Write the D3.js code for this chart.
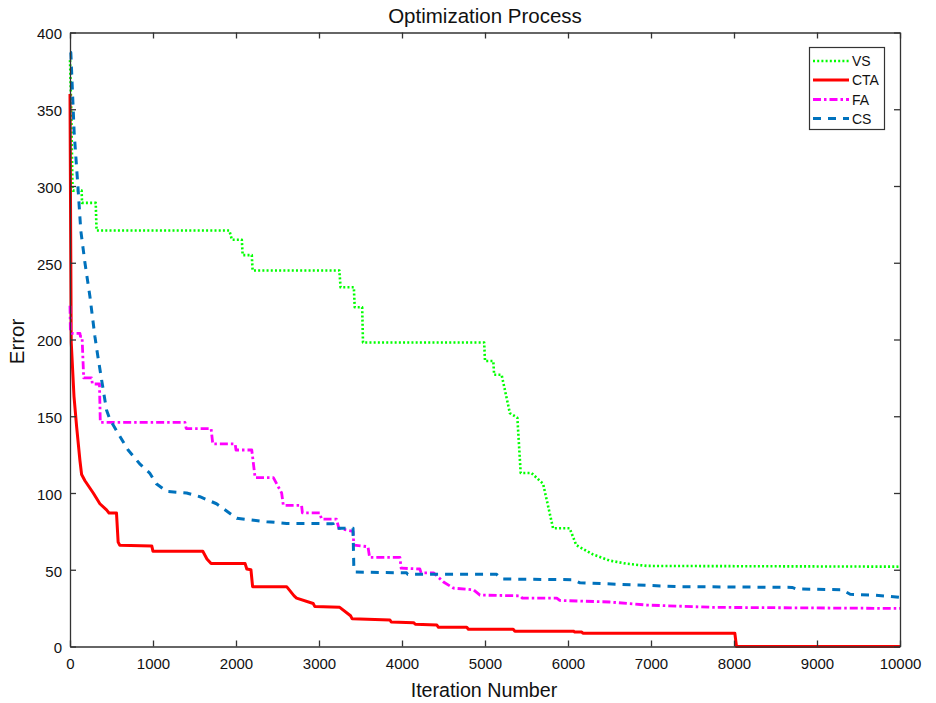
<!DOCTYPE html>
<html>
<head>
<meta charset="utf-8">
<script src="https://cdn.jsdelivr.net/npm/d3@7"></script>
<style>
  html, body { margin: 0; padding: 0; background: #fff; }
  svg { display: block; font-family: "Liberation Sans", Arial, Helvetica, sans-serif; }
</style>
</head>
<body>
<svg id="chart" width="936" height="703"></svg>
<script>
// ---- data ----
const xTicks = [0, 1000, 2000, 3000, 4000, 5000, 6000, 7000, 8000, 9000, 10000];
const yTicks = [0, 50, 100, 150, 200, 250, 300, 350, 400];
const seriesNames = ["VS", "CTA", "FA", "CS"];

const vsData = [[0,382],[15,350],[30,300],[35,297],[140,297],[145,289],[310,289],[320,271],[1920,271],[1950,265],[2070,265],[2080,255],[2190,255],[2200,245],[3245,245],[3260,234],[3420,234],[3430,221],[3520,221],[3530,198],[4990,198],[5000,186],[5100,186],[5110,177],[5200,177],[5300,152],[5390,149],[5430,113],[5560,113],[5700,106],[5820,77],[6020,77],[6100,66],[6300,60],[6500,56],[6700,54],[6950,52.5],[10000,52]];
const ctaData = [[0,360],[8,270],[15,198],[48,163],[80,143],[120,121],[140,112],[180,108],[280,100],[360,93],[440,89],[470,87],[560,87],[580,68],[600,66],[985,65.5],[1000,62],[1600,62],[1650,57],[1700,54],[2110,54],[2130,50.5],[2180,50],[2200,39],[2610,39],[2700,33],[2730,31.5],[2930,28],[2950,26],[3250,25.5],[3380,20],[3400,18],[3855,17.3],[3870,16],[4140,15.5],[4160,14.5],[4420,14],[4440,12.5],[4780,12.5],[4800,11.2],[5340,11.2],[5360,10],[6065,10],[6080,9.5],[6165,9.5],[6180,8.6],[8010,8.6],[8030,0],[10000,0]];
const faData = [[0,222],[5,205],[20,204],[120,204],[125,202],[145,202],[165,175],[260,175],[270,171],[355,171],[365,146],[1385,146],[1400,142],[1700,142],[1720,132],[1990,132],[2000,128],[2190,128],[2230,110],[2450,110],[2550,100],[2570,92],[2790,92],[2800,87],[3010,87],[3030,83],[3210,83],[3240,77],[3410,75],[3420,66],[3590,65],[3610,58],[3975,58],[3990,51],[4215,50.5],[4230,48],[4380,48],[4500,42],[4620,38],[4860,37],[4940,33.5],[5420,33],[5450,31.5],[5865,31.5],[5900,30],[6500,29],[6950,27],[7750,25.5],[10000,24.8]];
const csData = [[0,387],[10,387],[50,335],[95,300],[130,271],[180,250],[240,228],[300,202],[330,191],[380,174],[440,154],[480,148],[600,137],[700,128],[840,119],[960,113],[1040,106],[1165,101],[1405,100],[1565,97.6],[1765,93],[2010,83.5],[2370,81.3],[2610,80.2],[3170,80],[3180,77],[3410,77],[3420,50],[3440,48.5],[4055,48],[4070,47],[5140,47],[5200,44],[6065,43.5],[6145,41.5],[7350,39],[8700,38.5],[8750,37.5],[9300,37],[9400,34],[9700,33.5],[10000,32]];

const seriesData = [vsData, ctaData, faData, csData];
const seriesColors = ["#00ff00", "#ff0000", "#ff00ff", "#0072bd"];
const seriesDash = ["2,2.2", null, "8,3,2.5,3", "8,7"];
const seriesWidth = [2.6, 3, 2.8, 3];

// ---- layout ----
const svg = d3.select("#chart");
const L = 70, R = 900, T = 32.5, B = 646.5;
const x = d3.scaleLinear().domain([0, 10000]).range([L, R]);
const y = d3.scaleLinear().domain([0, 400]).range([B, T]);
const axisColor = "#333";

// data lines (drawn first, axes on top)
const line = d3.line().x(d => x(d[0])).y(d => y(d[1]));
const plot = svg.append("g");
seriesData.forEach((data, i) => {
  plot.append("path")
    .datum(data)
    .attr("d", line)
    .attr("fill", "none")
    .attr("stroke", seriesColors[i])
    .attr("stroke-width", seriesWidth[i])
    .attr("stroke-dasharray", seriesDash[i])
    .attr("stroke-linejoin", "round");
});

function styleAxis(g, showLabels) {
  g.selectAll(".domain").attr("stroke", axisColor).attr("stroke-width", 1.3);
  g.selectAll(".tick line").attr("stroke", axisColor).attr("stroke-width", 1.3);
  g.selectAll(".tick text").attr("fill", "#111").attr("font-size", 15)
    .attr("font-family", "Liberation Sans, Arial, sans-serif")
    .style("display", showLabels ? null : "none");
}

svg.append("g").attr("transform", `translate(0,${B})`)
  .call(d3.axisBottom(x).tickValues(xTicks).tickFormat(d3.format("d")).tickSizeInner(-6).tickSizeOuter(0).tickPadding(12))
  .call(g => styleAxis(g, true));

svg.append("g").attr("transform", `translate(${L},0)`)
  .call(d3.axisLeft(y).tickValues(yTicks).tickSizeInner(-6).tickSizeOuter(0).tickPadding(8))
  .call(g => styleAxis(g, true))
  .call(g => g.selectAll(".tick text").attr("dy", "0.42em"));

svg.append("g").attr("transform", `translate(0,${T})`)
  .call(d3.axisTop(x).tickValues(xTicks).tickSizeInner(-6).tickSizeOuter(0))
  .call(g => styleAxis(g, false));

svg.append("g").attr("transform", `translate(${R},0)`)
  .call(d3.axisRight(y).tickValues(yTicks).tickSizeInner(-6).tickSizeOuter(0))
  .call(g => styleAxis(g, false));

// titles
svg.append("text").attr("x", 485).attr("y", 23)
  .attr("text-anchor", "middle").attr("font-size", 20.5).attr("fill", "#111")
  .text("Optimization Process");
svg.append("text").attr("x", 484).attr("y", 697)
  .attr("text-anchor", "middle").attr("font-size", 19.7).attr("fill", "#111")
  .text("Iteration Number");
svg.append("text").attr("transform", `translate(24,341.5) rotate(-90)`)
  .attr("text-anchor", "middle").attr("font-size", 20.5).attr("fill", "#111")
  .text("Error");

// legend
const lg = svg.append("g");
lg.append("rect").attr("x", 809.5).attr("y", 47.5).attr("width", 75).attr("height", 82)
  .attr("fill", "#fff").attr("stroke", axisColor).attr("stroke-width", 1.2);
const rowY = [61, 80, 99.5, 118.5];
seriesNames.forEach((name, i) => {
  lg.append("line").attr("x1", 813).attr("x2", 849).attr("y1", rowY[i]).attr("y2", rowY[i])
    .attr("stroke", seriesColors[i]).attr("stroke-width", seriesWidth[i])
    .attr("stroke-dasharray", seriesDash[i]);
  lg.append("text").attr("x", 852).attr("y", rowY[i] + 5)
    .attr("font-size", 14).attr("fill", "#111").text(name);
});
</script>
</body>
</html>
